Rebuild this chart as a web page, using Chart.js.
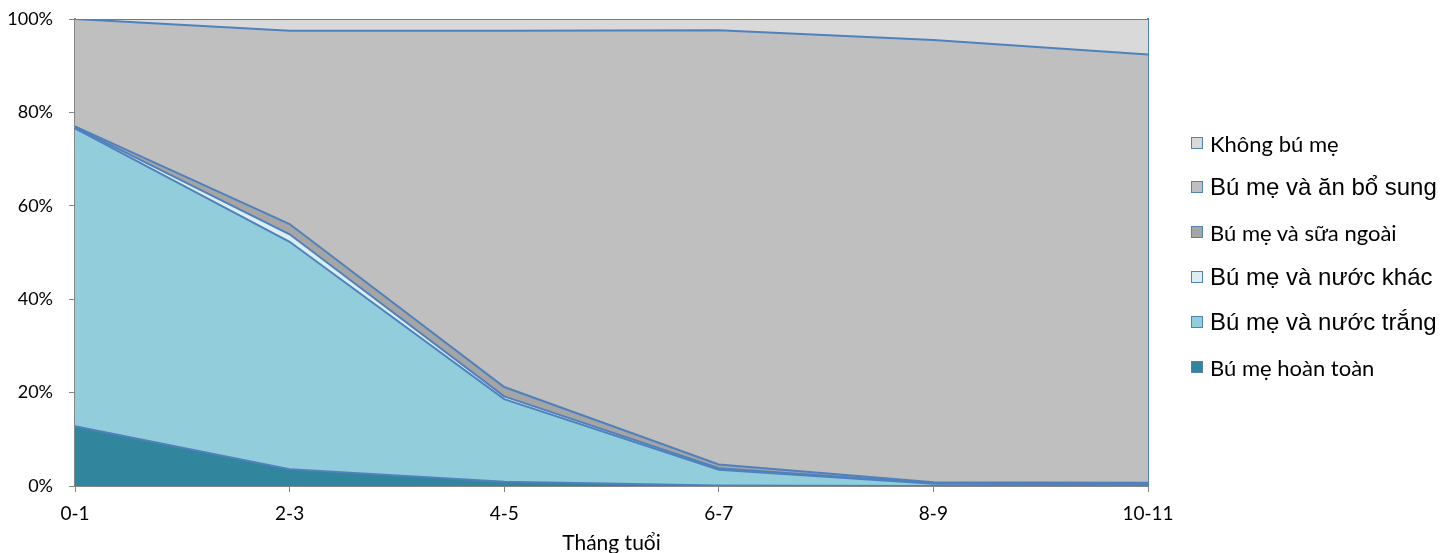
<!DOCTYPE html>
<html>
<head>
<meta charset="utf-8">
<script src="https://cdn.jsdelivr.net/npm/chart.js@4"></script>
<style>
  body{margin:0;background:#fff;}
  #wrap{position:relative;width:1454px;height:553px;}
  #legend{position:absolute;left:1191px;top:0;}
  .li{position:absolute;left:0;white-space:nowrap;display:flex;align-items:center;color:#000;}
  .li i{display:inline-block;width:10px;height:10px;border:1.5px solid #4F81BD;margin-right:7px;}
</style>
</head>
<body>
<div id="wrap">
  <canvas id="c"></canvas>
  <div id="legend"></div>
</div>
<script>
const AGES = ['0-1','2-3','4-5','6-7','8-9','10-11'];
// phan tram theo nhom tuoi, tu duoi len tren
const HOAN_TOAN   = [12.8, 3.6, 0.9, 0.1, 0.0, 0.0];
const NUOC_TRANG  = [63.8, 48.7, 17.7, 3.4, 0.5, 0.3];
const NUOC_KHAC   = [0.2, 1.6, 0.6, 0.3, 0.1, 0.1];
const SUA_NGOAI   = [0.2, 2.2, 2.0, 0.8, 0.2, 0.3];
const AN_BO_SUNG  = [23.0, 41.4, 76.3, 93.0, 94.7, 91.7];
const KHONG_BU_ME = [0.0, 2.5, 2.5, 2.4, 4.5, 7.6];
const Y_TICKS = [0,20,40,60,80,100];

const SERIES = [
  {label:'Bú mẹ hoàn toàn',     data:HOAN_TOAN,   color:'#31859C', font:'22px Lato'},
  {label:'Bú mẹ và nước trắng', data:NUOC_TRANG,  color:'#92CDDC', font:'24px "Liberation Sans"'},
  {label:'Bú mẹ và nước khác',  data:NUOC_KHAC,   color:'#DAEEF3', font:'24px "Liberation Sans"'},
  {label:'Bú mẹ và sữa ngoài',  data:SUA_NGOAI,   color:'#A5A5A5', font:'22px Lato'},
  {label:'Bú mẹ và ăn bổ sung', data:AN_BO_SUNG,  color:'#BFBFBF', font:'24px "Liberation Sans"'},
  {label:'Không bú mẹ',         data:KHONG_BU_ME, color:'#D9D9D9', font:'22px Lato'}
];

const axisGrey = '#868686';
const edgeBlue = '#4F81BD';

new Chart(document.getElementById('c'), {
  type:'line',
  data:{
    labels:AGES,
    datasets:SERIES.map((s,i)=>({
      label:s.label, data:s.data,
      backgroundColor:s.color, borderColor:edgeBlue, borderWidth:2,
      fill: i===0 ? 'origin' : '-1', tension:0, pointRadius:0
    }))
  },
  options:{
    responsive:true, maintainAspectRatio:false, animation:false,
    layout:{padding:{left:0, top:19, right:306, bottom:0}},
    plugins:{legend:{display:false}, tooltip:{enabled:false}},
    scales:{
      x:{
        offset:false, z:1,
        grid:{drawOnChartArea:false, tickLength:6, color:axisGrey},
        border:{color:axisGrey, width:2},
        ticks:{font:{family:'Lato', size:19}, color:'#000', padding:10, maxRotation:0, autoSkip:false},
        title:{display:true, text:'Tháng tuổi', font:{family:'Lato', size:21}, color:'#000', padding:{top:0, bottom:-3}},
        afterFit(s){ s.height = 67; }
      },
      y:{
        stacked:true, min:0, max:100, z:1,
        afterBuildTicks(s){ s.ticks = Y_TICKS.map(v=>({value:v})); },
        grid:{drawOnChartArea:false, tickLength:6, color:axisGrey},
        border:{color:axisGrey, width:2},
        ticks:{font:{family:'Lato', size:18}, color:'#000', padding:16, callback:v=>v+'%'},
        afterFit(s){ s.width = 75; s.paddingTop = 0; s.paddingBottom = 0; }
      },
      y2:{
        position:'right', min:0, max:100, z:1,
        grid:{display:false}, ticks:{display:false},
        border:{color:edgeBlue, width:2},
        afterFit(s){ s.width = 0; s.paddingTop = 0; s.paddingBottom = 0; }
      }
    }
  }
});

// legend: top item is the top layer
const LEG_Y = [143, 187, 232, 277, 322, 367];
const leg = document.getElementById('legend');
SERIES.slice().reverse().forEach((s,i)=>{
  const d = document.createElement('div');
  d.className = 'li';
  d.style.top = (LEG_Y[i]-14) + 'px';
  d.style.height = '28px';
  d.style.font = s.font;
  d.innerHTML = '<i style="background:'+s.color+'"></i><span>'+s.label+'</span>';
  leg.appendChild(d);
});
</script>
</body>
</html>
